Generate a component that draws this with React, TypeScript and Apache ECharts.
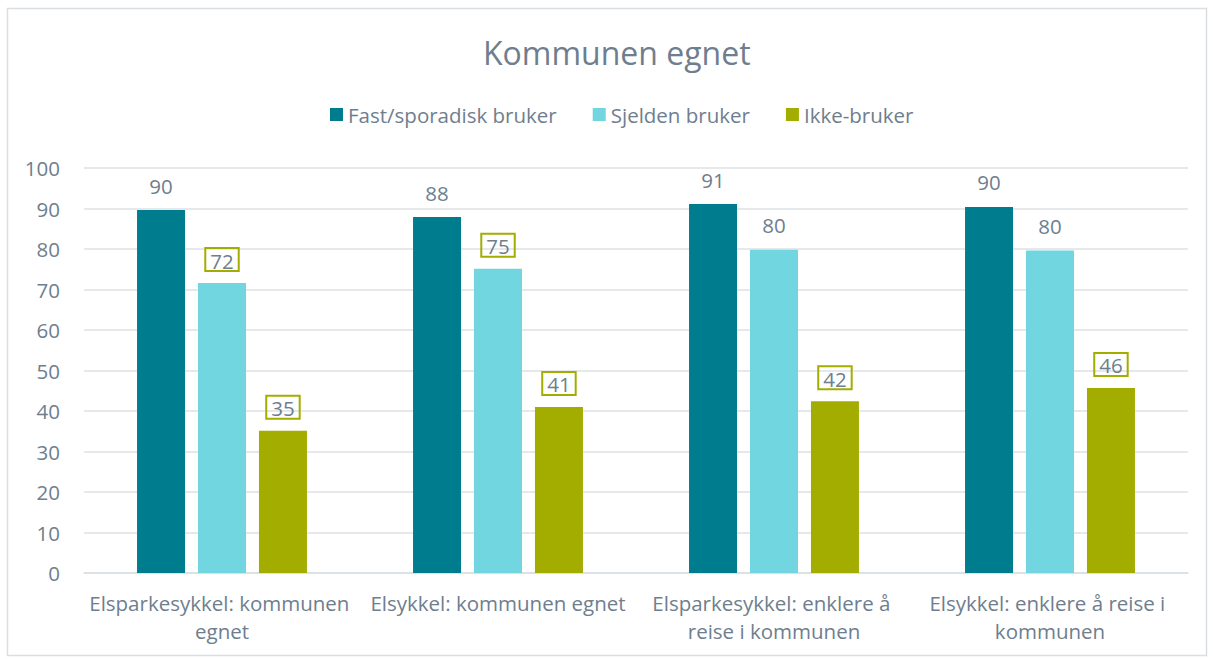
import React, { useEffect, useRef } from "react";
import * as echarts from "echarts";

const categories = [
  "Elsparkesykkel: kommunen egnet",
  "Elsykkel: kommunen egnet",
  "Elsparkesykkel: enklere å reise i kommunen",
  "Elsykkel: enklere å reise i kommunen",
];
const seriesNames = ["Fast/sporadisk bruker", "Sjelden bruker", "Ikke-bruker"];
const fastValues = [89.6, 87.9, 91.1, 90.4];
const sjeldenValues = [71.6, 75.1, 79.8, 79.6];
const ikkeValues = [35.1, 41.0, 42.4, 45.7];
const boxedSjelden = [true, true, false, false];
const boxedIkke = [true, true, true, true];
const colors = ["#007C8F", "#71D6E0", "#A3AD00"];

const textColor = "#6E7E8E";
const fontFamily = "'Open Sans', 'Noto Sans', sans-serif";

export default function App() {
  const ref = useRef<HTMLDivElement>(null);
  useEffect(() => {
    document.body.style.margin = "0";
    if (!ref.current) return;
    const chart = echarts.init(ref.current, undefined, { renderer: "svg" });

    const baseLabel = {
      show: true,
      position: "top",
      distance: 14,
      color: textColor,
      fontSize: 20.5,
      fontFamily,
      formatter: (p: any) => String(Math.round(p.value)),
    };
    const boxedLabel = {
      ...baseLabel,
      borderColor: "#A3AD00",
      borderWidth: 2,
      padding: [2, 5, 0, 5],
      distance: 12,
    };
    const mk = (vals: number[], boxed: boolean[] | null) =>
      vals.map((v, i) => ({
        value: v,
        label: boxed && boxed[i] ? boxedLabel : baseLabel,
      }));

    chart.setOption({
      animation: false,
      backgroundColor: "#ffffff",
      textStyle: { fontFamily },
      title: {
        text: "Kommunen egnet",
        left: 478,
        top: 31,
        textStyle: { color: textColor, fontSize: 32, fontWeight: "normal", fontFamily },
      },
      legend: {
        top: 99,
        left: 325,
        itemWidth: 13,
        itemHeight: 13,
        itemGap: 36,
        icon: "rect",
        textStyle: { color: textColor, fontSize: 20.5, fontFamily },
        data: seriesNames,
      },
      graphic: [
        {
          type: "rect",
          shape: { x: 7.5, y: 8.5, width: 1199, height: 647 },
          style: { fill: "none", stroke: "#D9DEE3", lineWidth: 1.5 },
          silent: true,
        },
      ],
      grid: { left: 84, right: 25, top: 168, bottom: 86, containLabel: false },
      xAxis: {
        type: "category",
        data: categories,
        axisLine: { lineStyle: { color: "#D9DEE3", width: 1.5 } },
        axisTick: { show: false },
        axisLabel: {
          color: textColor,
          fontSize: 20.5,
          fontFamily,
          lineHeight: 28,
          margin: 16,
          width: 272,
          overflow: "break",
          interval: 0,
        },
      },
      yAxis: {
        type: "value",
        min: 0,
        max: 100,
        interval: 10,
        axisLine: { show: false },
        axisTick: { show: false },
        axisLabel: { color: textColor, fontSize: 20.5, fontFamily, margin: 24 },
        splitLine: { lineStyle: { color: "#DDE2E6", width: 1.5 } },
      },
      series: [
        {
          name: seriesNames[0],
          type: "bar",
          data: mk(fastValues, null),
          itemStyle: { color: colors[0] },
          barWidth: 48,
          barGap: "27%",
        },
        {
          name: seriesNames[1],
          type: "bar",
          data: mk(sjeldenValues, boxedSjelden),
          itemStyle: { color: colors[1] },
          barWidth: 48,
          barGap: "27%",
        },
        {
          name: seriesNames[2],
          type: "bar",
          data: mk(ikkeValues, boxedIkke),
          itemStyle: { color: colors[2] },
          barWidth: 48,
          barGap: "27%",
        },
      ],
    });
    return () => chart.dispose();
  }, []);
  return <div ref={ref} style={{ width: 1213, height: 659 }} />;
}
